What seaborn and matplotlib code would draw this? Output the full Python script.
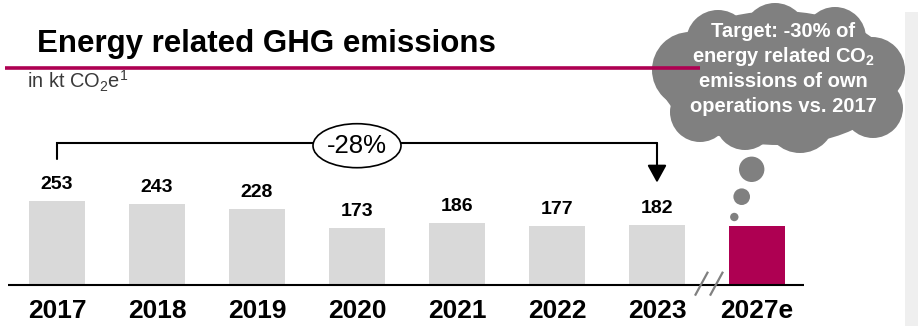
import matplotlib
matplotlib.use("Agg")
import matplotlib.pyplot as plt
from matplotlib.patches import Ellipse, Circle, Rectangle
from matplotlib.transforms import Affine2D
import seaborn as sns
import pandas as pd

# --- data -------------------------------------------------------------
actual_years = ["2017", "2018", "2019", "2020", "2021", "2022", "2023"]
actual_kt = [253, 243, 228, 173, 186, 177, 182]
target_year = "2027e"
target_kt = 177  # -30 % vs. 2017

title = "Energy related GHG emissions"
unit_label = r"in kt CO$_2$e$^1$"
target_note = ["Target: -30% of",
               r"energy related CO$_\mathbf{2}$",
               "emissions of own",
               "operations vs. 2017"]

GREY_BAR = "#d9d9d9"
BRAND = "#ae0052"
CLOUD = "#808080"

# --- style --------------------------------------------------------------
sns.set_theme(style="white")
plt.rcParams["font.family"] = ["Liberation Sans", "DejaVu Sans"]
plt.rcParams["mathtext.fontset"] = "custom"
plt.rcParams["mathtext.rm"] = "Liberation Sans"
plt.rcParams["mathtext.it"] = "Liberation Sans:italic"
plt.rcParams["mathtext.bf"] = "Liberation Sans:bold"

W, H = 918, 326
fig = plt.figure(figsize=(W / 100, H / 100), dpi=100)
fig.patch.set_facecolor("white")
# pixel transform (origin at top-left)
px = Affine2D().scale(1 / W, -1 / H).translate(0, 1) + fig.transFigure

ax = fig.add_axes([0, 0, 1, 1])
ax.set_axis_off()

years = actual_years + [target_year]
values = actual_kt + [target_kt]
df = pd.DataFrame({"year": years, "kt": values})
palette = {y: GREY_BAR for y in actual_years}
palette[target_year] = BRAND

sns.barplot(data=df, x="year", y="kt", hue="year", palette=palette,
            width=0.56, linewidth=0, saturation=1, legend=False, ax=ax,
            zorder=2)

# scale: 100 px per category, 0.332 px per kt, baseline at y=285 px
PX_PER_KT = 0.332
ax.set_xlim(-0.57, (W - 57) / 100)
ax.set_ylim(-(H - 285) / PX_PER_KT, 285 / PX_PER_KT)

# baseline
n = len(years)
ax.plot([-0.49, n - 0.53], [0, 0], color="black", lw=1.5, zorder=3,
        solid_capstyle="butt")

# value labels and category labels
for i, (y, v) in enumerate(zip(years, values)):
    if y != target_year:
        ax.annotate(str(v), (i, v), xytext=(0, 16.5), textcoords="offset pixels",
                    ha="center", va="center", fontsize=14, fontweight="bold",
                    color="black")
    ax.annotate(y, (i, 0), xytext=(0, -26.5), textcoords="offset pixels",
                ha="center", va="center", fontsize=19, fontweight="bold",
                color="black")

# axis break marks before the target bar
brk_x = n - 1.5
for dx in (-0.12, 0.03):
    ax.plot([brk_x + dx, brk_x + dx + 0.13], [-32, 40], color=CLOUD, lw=1.6,
            zorder=4, solid_capstyle="butt")

# change bracket between first and last actual year
i0, i1 = 0, len(actual_kt) - 1
gap = 42 / PX_PER_KT
y_top = max(actual_kt[i0], actual_kt[i1]) + gap + 16 / PX_PER_KT
ax.plot([i0, i0, i1, i1], [actual_kt[i0] + gap, y_top, y_top, y_top - 1],
        color="black", lw=1.5, zorder=3, solid_joinstyle="miter")
ax.annotate("", xy=(i1, actual_kt[i1] + gap), xytext=(i1, y_top),
            arrowprops=dict(arrowstyle="-|>,head_length=0.4,head_width=0.22",
                            mutation_scale=26.5, lw=1.5, color="black",
                            shrinkA=0, shrinkB=0), zorder=3)
pct = round((actual_kt[i1] - actual_kt[i0]) / actual_kt[i0] * 100)
xm = (i0 + i1) / 2
ym = y_top - 2.7 / PX_PER_KT
ax.add_patch(Ellipse((xm, ym), 0.88, 44 / PX_PER_KT, facecolor="white",
                     edgecolor="black", lw=1.2, zorder=4))
ax.text(xm, ym, f"{pct}%", ha="center", va="center", fontsize=18.5,
        color="black", zorder=5)

# --- header -----------------------------------------------------------
fig.text(37, 51.7, title, transform=px, ha="left", va="baseline",
         fontsize=22.5, fontweight="bold", color="black")
fig.add_artist(plt.Line2D([5, 700], [68, 68], transform=px, color=BRAND,
                          lw=2.6, solid_capstyle="butt"))
fig.text(27, 88, unit_label, transform=px, ha="left", va="baseline",
         fontsize=14.4, color="#3a3a3a")

# side panel
fig.add_artist(Rectangle((905, 12), 20, 320, transform=px,
                         facecolor="#efefef", edgecolor="none"))

# --- target cloud -----------------------------------------------------
fig.add_artist(Ellipse((778, 78), 236, 134, transform=px, facecolor=CLOUD,
                       edgecolor="none"))
lobes = [
    ((690, 70), 38), ((700, 112), 30), ((718, 42), 32), ((775, 35), 32),
    ((835, 38), 31), ((872, 70), 33), ((873, 108), 30), ((800, 118), 35),
    ((745, 120), 30),
]
for (cx, cy), r in lobes:
    fig.add_artist(Circle((cx, cy), r, transform=px, facecolor=CLOUD,
                          edgecolor="none"))
for (cx, cy), r in [((751.7, 169.3), 12.7), ((741.7, 196.7), 8.3),
                    ((734.3, 217), 4.2)]:
    fig.add_artist(Circle((cx, cy), r, transform=px, facecolor=CLOUD,
                          edgecolor="none"))
for k, line in enumerate(target_note):
    fig.text(783, 31.7 + k * 25, line, transform=px, ha="center",
             va="center", fontsize=14.5, fontweight="bold", color="white")

fig.savefig("out.png", dpi=100, facecolor="white")
